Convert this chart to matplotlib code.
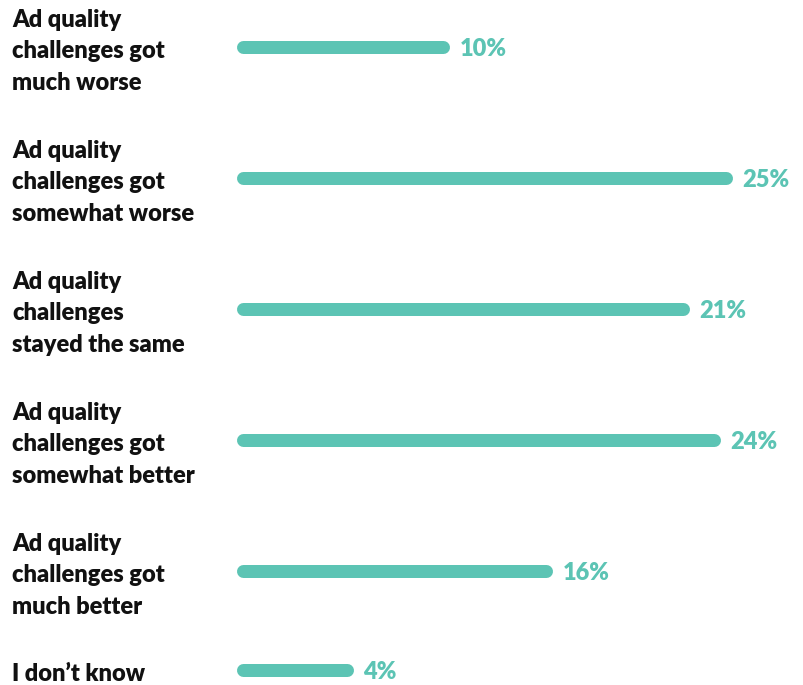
import numpy as np
import matplotlib.pyplot as plt

# answer categories (top to bottom)
labels = ["Ad quality\nchallenges got\nmuch worse",
          "Ad quality\nchallenges got\nsomewhat worse",
          "Ad quality\nchallenges\nstayed the same",
          "Ad quality\nchallenges got\nsomewhat better",
          "Ad quality\nchallenges got\nmuch better",
          "I don\u2019t know"]
# bar lengths as drawn (percent) and the printed labels
bar_len = [10.4, 25.0, 22.8, 24.4, 15.7, 5.4]
pct_text = ["10%", "25%", "21%", "24%", "16%", "4%"]
# row positions (rows are not evenly spaced: the last label is one line)
rows = [0, 1, 2, 3, 4, 4.755]

teal = "#5cc4b4"
plt.rcParams['font.family'] = ['Lato', 'DejaVu Sans']

fig = plt.figure(figsize=(8.04, 6.85), dpi=100)
ax = fig.add_axes([0, 0, 1, 1])

px = 19.32  # pixels per percent
x0 = 242.5  # pixel of zero
ax.set_xlim(-x0 / px, (804 - x0) / px)
# y: row 0 at pixel 47, row step 131 px
ax.set_ylim((685 - 47) / 131.0, -47 / 131.0)
ax.axis("off")

for y, v, t, lab in zip(rows, bar_len, pct_text, labels):
    ax.plot([0, v], [y, y], color=teal, lw=13 * 72 / 100,
            solid_capstyle="round")
    ax.annotate(t, (v, y), xytext=(12, -1.2), textcoords="offset points",
                va="center", ha="left", color=teal, fontsize=17,
                fontweight="heavy")
    ax.annotate(lab, (-x0 / px + 12 / px, y), xytext=(0, -3),
                textcoords="offset points", va="center", ha="left",
                fontsize=17, fontweight="heavy", color="#111111",
                linespacing=1.53)

fig.savefig("out.png", dpi=100)
